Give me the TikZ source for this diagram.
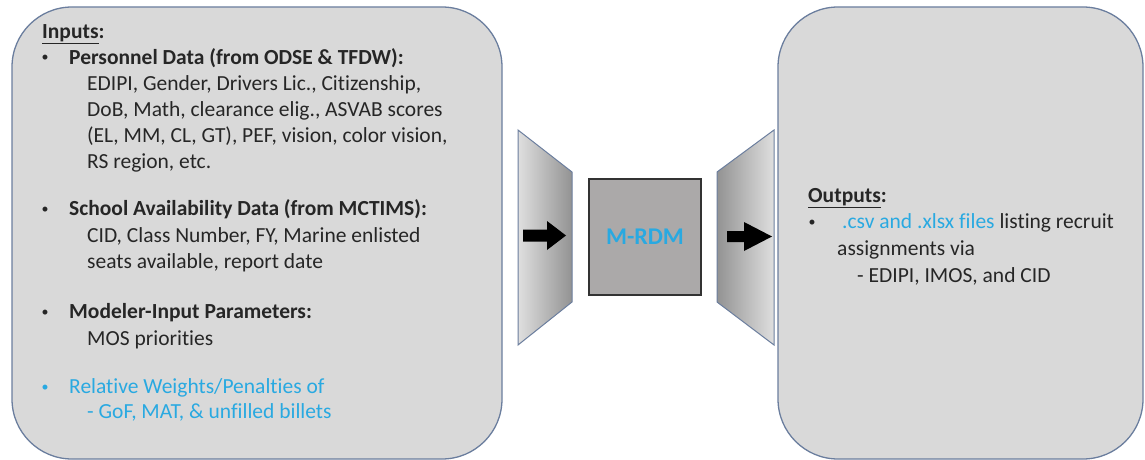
\documentclass[tikz,border=0pt]{standalone}
\usepackage{fontspec}
\setmainfont{Carlito}[Ligatures=NoCommon]
\usetikzlibrary{positioning}

\definecolor{panelgray}{HTML}{D9D9D9}
\definecolor{edgeblue}{HTML}{6B7E9E}
\definecolor{hiblue}{HTML}{29A9E1}
\definecolor{coregray}{HTML}{ABA9A9}
\definecolor{inktext}{HTML}{262626}

\tikzset{
  panel/.style={draw=edgeblue, line width=1.3pt, fill=panelgray, rounded corners=60pt, inner sep=0pt},
  funnel/.style={draw=edgeblue, line width=1pt},
  line/.style={anchor=base west, inner sep=0pt, text=inktext, font=\fontsize{21.5}{24}\selectfont},
  head/.style={line, font=\fontsize{21.5}{24}\selectfont\bfseries},
  dot/.style={anchor=base, inner sep=0pt, text=inktext, font=\fontsize{14}{16}\selectfont, yshift=2pt},
}

\begin{document}
\begin{tikzpicture}[x=1pt, y=-1pt]
    \useasboundingbox (0,0) rectangle (1145,460);

    % --- panels ---
    \node[panel, minimum width=490pt, minimum height=452pt] (inputs) at (257,233) {};
    \node[panel, minimum width=365pt, minimum height=452pt] (outputs) at (960.5,233) {};

    % --- funnels in and out ---
    \shade[left color=gray!25, right color=gray!85] (518,130) -- (572,172) -- (572,302) -- (518,345) -- cycle;
    \draw[funnel] (518,130) -- (572,172) -- (572,302) -- (518,345) -- cycle;
    \shade[left color=gray!85, right color=gray!25] (717,172) -- (774,130) -- (774,345) -- (717,302) -- cycle;
    \draw[funnel] (717,172) -- (774,130) -- (774,345) -- (717,302) -- cycle;

    % block arrows
    \fill[black] (523,229.5) -- (547,229.5) -- (547,221) -- (566,235.5) -- (547,250) -- (547,241.5) -- (523,241.5) -- cycle;
    \fill[black] (727,231) -- (744,231) -- (744,222) -- (772,236.5) -- (744,251) -- (744,242) -- (727,242) -- cycle;

    % --- model box ---
    \node[draw=black!80, line width=1.6pt, fill=coregray, minimum width=112pt, minimum height=116pt,
          text=hiblue, font=\fontsize{24}{26}\selectfont\bfseries] (rdm) at (645,237) {M-RDM};

    % --- inputs text ---
    \node[head] (intitle) at (42,38) {\underline{Inputs}:};

    \node[dot] (b1) at (45,64) {•};
    \node[head] (pers) at (69,64) {Personnel Data (from ODSE \& TFDW):};
    \node[line] (pers1) at (87,90) {EDIPI, Gender, Drivers Lic., Citizenship,};
    \node[line] (pers2) at (87,116) {DoB, Math, clearance elig., ASVAB scores};
    \node[line] (pers3) at (87,142) {(EL, MM, CL, GT), PEF, vision, color vision,};
    \node[line] (pers4) at (87,168) {RS region, etc.};

    \node[dot] (b2) at (45,215) {•};
    \node[head] (school) at (69,215) {School Availability Data (from MCTIMS):};
    \node[line] (school1) at (87,242) {CID, Class Number, FY, Marine enlisted};
    \node[line] (school2) at (87,268) {seats available, report date};

    \node[dot] (b3) at (45,318) {•};
    \node[head] (param) at (69,318) {Modeler-Input Parameters:};
    \node[line] (param1) at (87,345) {MOS priorities};

    \node[dot, text=hiblue] (b4) at (45,393) {•};
    \node[line, text=hiblue] (weights) at (69,393) {Relative Weights/Penalties of};
    \node[line, text=hiblue] (weights1) at (87,418) {- GoF, MAT, \& unfilled billets};

    % --- outputs text ---
    \node[head] (outtitle) at (808,202) {\underline{Outputs}:};
    \node[dot] (b5) at (812,228) {•};
    \node[line] (files) at (842,228) {{\color{hiblue}.csv and .xlsx files} listing recruit};
    \node[line] (files1) at (837,255) {assignments via};
    \node[line] (files2) at (857,282) {- EDIPI, IMOS, and CID};
\end{tikzpicture}
\end{document}
